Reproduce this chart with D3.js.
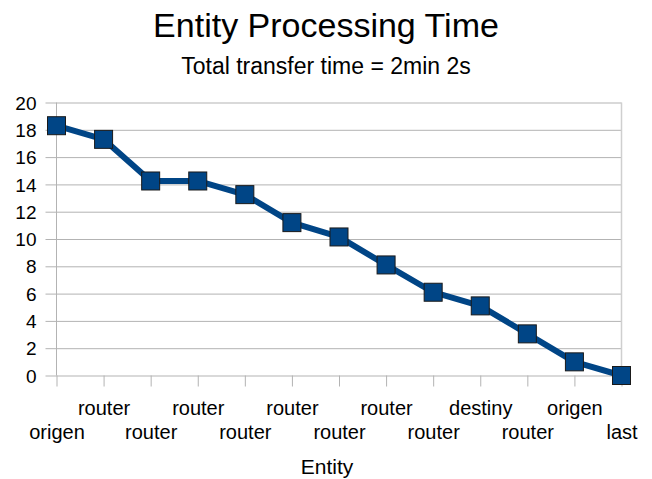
<!DOCTYPE html>
<html>
<head>
  <meta charset="UTF-8">
  <title>Entity Processing Time</title>
  <style>
    body { margin: 0; background: #fff; }
    text { font-family: "Liberation Sans", Arial, sans-serif; fill: #000; }
  </style>
</head>
<body>
<svg id="chart" width="652" height="479"></svg>
<script src="https://d3js.org/d3.v7.min.js"></script>
<script>
  // data
  var entities = ["origen", "router", "router", "router", "router", "router", "router",
                  "router", "router", "destiny", "router", "origen", "last"];
  var times = [18.3, 17.3, 14.25, 14.25, 13.25, 11.2, 10.15, 8.1, 6.1, 5.1, 3.05, 1.0, 0];
  var yTicks = [0, 2, 4, 6, 8, 10, 12, 14, 16, 18, 20];

  var svg = d3.select("#chart");
  // plot area edges (note: "top" is reserved on window, so use other names)
  var plotL = 56.5, plotR = 621.5, plotT = 102.5, plotB = 375.5;

  var x = d3.scalePoint()
    .domain(d3.range(entities.length))
    .range([plotL, plotR]);

  var y = d3.scaleLinear()
    .domain([0, 20])
    .range([plotB, plotT]);

  // titles
  svg.append("text")
    .attr("x", 326).attr("y", 37)
    .attr("text-anchor", "middle")
    .style("font-size", "34px")
    .text("Entity Processing Time");

  svg.append("text")
    .attr("x", 326).attr("y", 74)
    .attr("text-anchor", "middle")
    .style("font-size", "23px")
    .text("Total transfer time = 2min 2s");

  // y gridlines + axis
  var yAxis = d3.axisLeft(y)
    .tickValues(yTicks)
    .tickSize(-(plotR - plotL))
    .tickPadding(20);

  var gy = svg.append("g")
    .attr("transform", "translate(" + plotL + ",0)")
    .call(yAxis);
  gy.select(".domain").remove();
  gy.selectAll(".tick line")
    .attr("x1", -11)
    .attr("stroke", "#b3b3b3");
  gy.selectAll(".tick text")
    .attr("x", -20)
    .attr("dy", "0.35em")
    .style("font-size", "19px")
    .style("font-family", "'Liberation Sans', Arial, sans-serif")
    .attr("fill", "#000");

  // vertical axis line and right border
  svg.append("line")
    .attr("x1", plotL).attr("x2", plotL)
    .attr("y1", plotT).attr("y2", plotB)
    .attr("stroke", "#b3b3b3");
  svg.append("line")
    .attr("x1", plotR).attr("x2", plotR)
    .attr("y1", plotT).attr("y2", plotB)
    .attr("stroke", "#cfcfcf")
    .attr("stroke-width", 1.5);

  // x axis ticks and staggered labels
  var xAxis = d3.axisBottom(x)
    .tickSize(11)
    .tickFormat(function(i) { return entities[i]; });

  var gx = svg.append("g")
    .attr("transform", "translate(0," + plotB + ")")
    .call(xAxis);
  gx.select(".domain").remove();
  gx.selectAll(".tick line").attr("stroke", "#b3b3b3");
  gx.selectAll(".tick text")
    .attr("y", function(i) { return i % 2 === 0 ? 63 : 39; })
    .attr("dy", 0)
    .style("font-size", "20px")
    .style("font-family", "'Liberation Sans', Arial, sans-serif")
    .attr("fill", "#000");

  svg.append("text")
    .attr("x", 327).attr("y", 474)
    .attr("text-anchor", "middle")
    .style("font-size", "21px")
    .text("Entity");

  // series line
  var line = d3.line()
    .x(function(d, i) { return x(i); })
    .y(function(d) { return y(d); });

  svg.append("path")
    .datum(times)
    .attr("d", line)
    .attr("fill", "none")
    .attr("stroke", "#004586")
    .attr("stroke-width", 6)
    .attr("stroke-linejoin", "round");

  // square markers
  var ms = 18;
  svg.append("g")
    .selectAll("rect")
    .data(times)
    .enter()
    .append("rect")
    .attr("x", function(d, i) { return x(i) - ms / 2; })
    .attr("y", function(d) { return y(d) - ms / 2; })
    .attr("width", ms)
    .attr("height", ms)
    .attr("fill", "#004586")
    .attr("stroke", "#1a1a1a")
    .attr("stroke-width", 1);
</script>
</body>
</html>
